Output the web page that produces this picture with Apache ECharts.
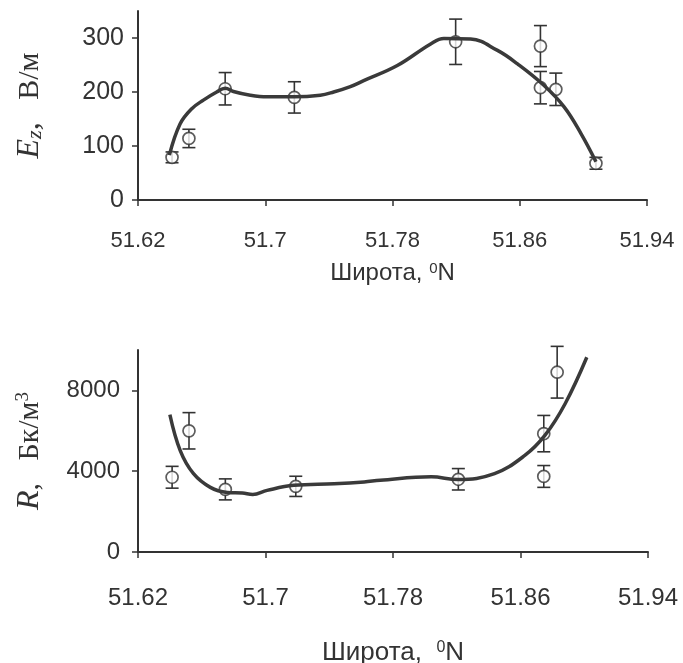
<!DOCTYPE html>
<html>
<head>
<meta charset="utf-8">
<script src="https://cdn.jsdelivr.net/npm/echarts@6/dist/echarts.min.js"></script>
<style>
html,body{margin:0;padding:0;background:#fff;}
#chart{width:683px;height:663px;}
</style>
</head>
<body>
<div id="chart"></div>
<script>
// ---- Data ----
const xTicks = [51.62, 51.7, 51.78, 51.86, 51.94];
const yTicksE = [0, 100, 200, 300];
const yTicksR = [0, 4000, 8000];

// Top panel: E_z measurements
const latE = [51.6414, 51.652, 51.6748, 51.7183, 51.8197, 51.873, 51.873, 51.8827, 51.9079];
const valE = [79, 114, 206, 190, 293, 285, 208, 205, 68];
const errE = [10, 17, 30, 29, 42, 38, 30, 30, 11];
// Top panel: fitted curve
const curveLatE = [51.6397, 51.6465, 51.6538, 51.6611, 51.6695, 51.6748, 51.680, 51.6906, 51.7011, 51.7179, 51.7346, 51.743, 51.7535, 51.7619, 51.783, 51.804, 51.8123, 51.8291, 51.846, 51.8586, 51.8753, 51.888, 51.8985, 51.9079];
const curveValE = [83, 141, 169, 185, 200, 207, 201, 194, 191, 191, 194, 200, 210, 221, 249, 289, 299, 298, 277, 252, 212, 172, 123, 71];

// Bottom panel: R measurements
const latR = [51.6414, 51.652, 51.6748, 51.719, 51.821, 51.8746, 51.8746, 51.883];
const valR = [3700, 6000, 3100, 3250, 3600, 5860, 3740, 8900];
const errR = [540, 900, 520, 500, 530, 900, 540, 1280];
// Bottom panel: fitted curve
const curveLatR = [51.640, 51.6465, 51.6547, 51.6654, 51.676, 51.6855, 51.692, 51.701, 51.7177, 51.743, 51.7619, 51.772, 51.804, 51.8207, 51.8437, 51.8627, 51.8753, 51.888, 51.9016];
const curveValR = [6800, 5020, 3890, 3200, 2950, 2920, 2850, 3050, 3300, 3380, 3470, 3550, 3720, 3590, 3880, 4780, 5770, 7340, 9640];

// ---- Build ----
const INK = '#333';
const pairs = (xs, ys) => xs.map((x, i) => [x, ys[i]]);
const bars = (xs, ys, es) => xs.map((x, i) => [x, ys[i] - es[i], ys[i] + es[i]]);

function renderErr(params, api) {
  const x = api.value(0), lo = api.value(1), hi = api.value(2);
  const a = api.coord([x, lo]), b = api.coord([x, hi]);
  const cw = 6.5;
  const st = { stroke: INK, lineWidth: 1.6 };
  return {
    type: 'group',
    children: [
      { type: 'line', shape: { x1: a[0], y1: a[1], x2: b[0], y2: b[1] }, style: st },
      { type: 'line', shape: { x1: a[0] - cw, y1: a[1], x2: a[0] + cw, y2: a[1] }, style: st },
      { type: 'line', shape: { x1: b[0] - cw, y1: b[1], x2: b[0] + cw, y2: b[1] }, style: st }
    ]
  };
}

function xAxisCfg(gi, labelSize, nameText, nameSize, nameGap, labelMargin) {
  return {
    type: 'value', gridIndex: gi, min: 51.62, max: 51.94,
    splitLine: { show: false },
    axisLine: { show: true, onZero: false, lineStyle: { color: INK, width: 2 } },
    axisTick: { show: true, length: 6, customValues: xTicks, lineStyle: { color: INK, width: 1.5 } },
    axisLabel: { customValues: xTicks, color: INK, fontFamily: 'Liberation Sans, Arial, sans-serif', fontSize: labelSize, margin: labelMargin,
      formatter: v => String(+v.toFixed(2)) },
    name: nameText, nameLocation: 'middle', nameGap: nameGap,
    nameTextStyle: {
      color: INK, fontFamily: 'Liberation Sans, Arial, sans-serif', fontSize: nameSize,
      rich: {
        n: { fontFamily: 'Liberation Sans, Arial, sans-serif', fontSize: nameSize, color: INK },
        sup: { fontFamily: 'Liberation Sans, Arial, sans-serif', fontSize: Math.round(nameSize * 0.62), color: INK, verticalAlign: 'top' }
      }
    }
  };
}

function yAxisCfg(gi, max, ticks, labelSize, nameText, nameGap, labelMargin) {
  return {
    type: 'value', gridIndex: gi, min: 0, max: max,
    splitLine: { show: false },
    axisLine: { show: true, lineStyle: { color: INK, width: 2 } },
    axisTick: { show: true, length: 6, customValues: ticks, lineStyle: { color: INK, width: 1.5 } },
    axisLabel: { customValues: ticks, color: INK, fontFamily: 'Liberation Sans, Arial, sans-serif', fontSize: labelSize, margin: labelMargin,
      formatter: v => String(v) },
    name: nameText, nameLocation: 'middle', nameRotate: 90, nameGap: nameGap,
    nameTextStyle: {
      color: INK, fontFamily: 'Liberation Serif, Times New Roman, serif', fontSize: 31,
      rich: {
        i: { fontFamily: 'Liberation Serif, Times New Roman, serif', fontStyle: 'italic', fontSize: 32, color: INK },
        sub: { fontFamily: 'Liberation Serif, Times New Roman, serif', fontStyle: 'italic', fontSize: 22, color: INK, verticalAlign: 'bottom' },
        n: { fontFamily: 'Liberation Serif, Times New Roman, serif', fontSize: 30, color: INK },
        sup: { fontFamily: 'Liberation Serif, Times New Roman, serif', fontSize: 19, color: INK, verticalAlign: 'top' }
      }
    }
  };
}

const pointStyle = { color: '#fff', borderColor: INK, borderWidth: 1.7 };

const option = {
  backgroundColor: '#fff',
  animation: false,
  grid: [
    { left: 138, top: 11, width: 509, height: 189, outerBoundsMode: 'none' },
    { left: 138, top: 350, width: 510, height: 202, outerBoundsMode: 'none' }
  ],
  xAxis: [
    xAxisCfg(0, 22, '{n|Широта, }{sup|0}{n|N}', 24, 61, 30),
    xAxisCfg(1, 24, '{n|Широта,  }{sup|0}{n|N}', 26, 88, 34)
  ],
  yAxis: [
    yAxisCfg(0, 350, yTicksE, 25, '{i|E}{sub|z}{i|,}{n|   В/м}', 92, 14),
    yAxisCfg(1, 10000, yTicksR, 24, '{i|R}{n|,   Бк/м}{sup|3}', 92, 18)
  ],
  series: [
    { type: 'custom', xAxisIndex: 0, yAxisIndex: 0, renderItem: renderErr, data: bars(latE, valE, errE), encode: { x: 0, y: [1, 2] }, z: 2, silent: true },
    { type: 'scatter', xAxisIndex: 0, yAxisIndex: 0, data: pairs(latE, valE), symbol: 'circle', symbolSize: 12, itemStyle: pointStyle, z: 3 },
    { type: 'line', xAxisIndex: 0, yAxisIndex: 0, data: pairs(curveLatE, curveValE), smooth: 0.4, showSymbol: false, symbol: 'none', lineStyle: { color: '#3a3a3a', width: 3.5 }, z: 4 },

    { type: 'custom', xAxisIndex: 1, yAxisIndex: 1, renderItem: renderErr, data: bars(latR, valR, errR), encode: { x: 0, y: [1, 2] }, z: 2, silent: true },
    { type: 'scatter', xAxisIndex: 1, yAxisIndex: 1, data: pairs(latR, valR), symbol: 'circle', symbolSize: 12, itemStyle: pointStyle, z: 3 },
    { type: 'line', xAxisIndex: 1, yAxisIndex: 1, data: pairs(curveLatR, curveValR), smooth: 0.4, showSymbol: false, symbol: 'none', lineStyle: { color: '#3a3a3a', width: 3.5 }, z: 4 }
  ]
};

const chart = echarts.init(document.getElementById('chart'), null, { renderer: 'canvas' });
chart.setOption(option);
</script>
</body>
</html>
